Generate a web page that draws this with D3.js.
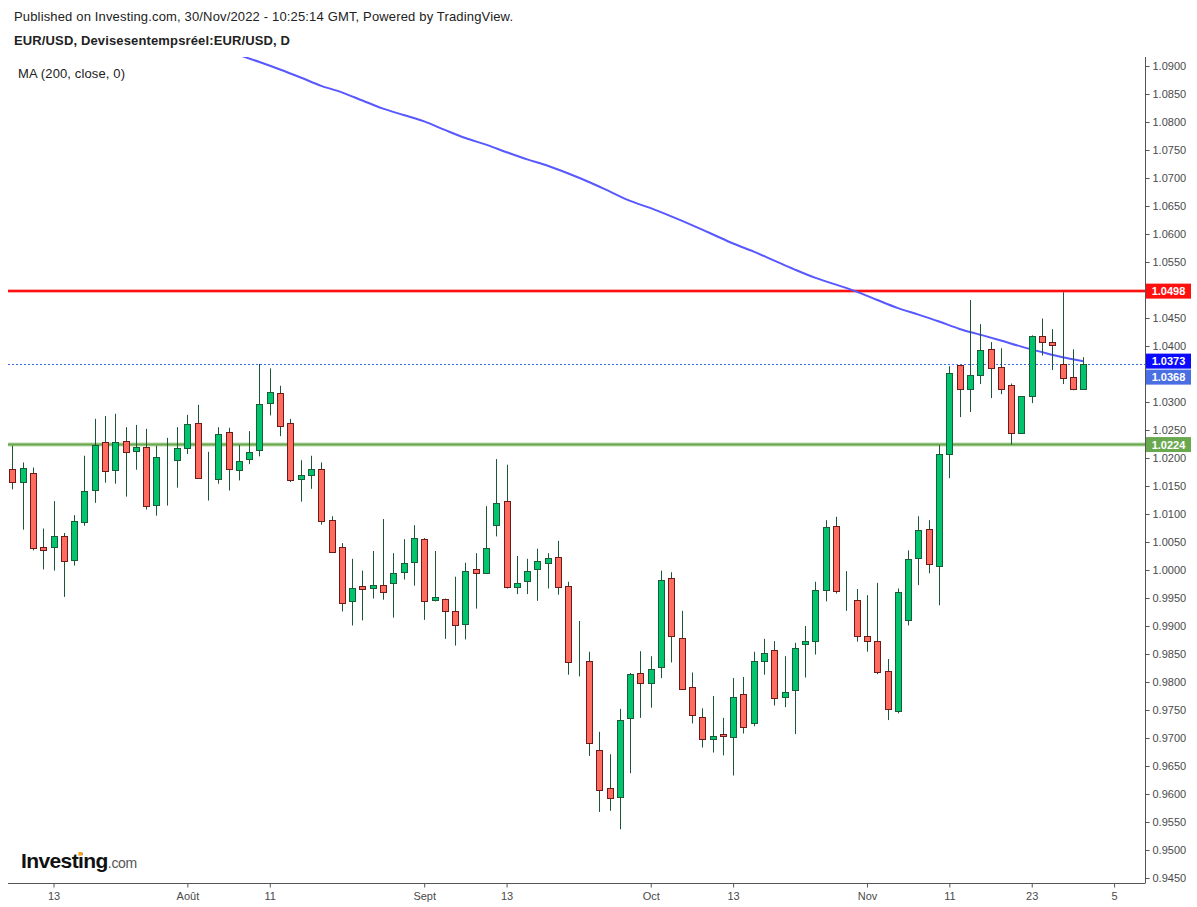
<!DOCTYPE html>
<html>
<head>
<meta charset="utf-8">
<script src="https://cdn.jsdelivr.net/npm/d3@7/dist/d3.min.js"></script>
<style>
  html, body { margin: 0; padding: 0; background: #ffffff; }
  svg { display: block; font-family: "Liberation Sans", Arial, sans-serif; }
</style>
</head>
<body>
<svg id="chart" width="1197" height="907"></svg>
<script>
// ---------------- DATA ----------------
const dates = [
  "2022-07-07","2022-07-08","2022-07-11","2022-07-12","2022-07-13","2022-07-14","2022-07-15","2022-07-18","2022-07-19","2022-07-20","2022-07-21","2022-07-22","2022-07-25","2022-07-26","2022-07-27","2022-07-28","2022-07-29",
  "2022-08-01","2022-08-02","2022-08-03","2022-08-04","2022-08-05","2022-08-08","2022-08-09","2022-08-10","2022-08-11","2022-08-12","2022-08-15","2022-08-16","2022-08-17","2022-08-18","2022-08-19","2022-08-22","2022-08-23","2022-08-24","2022-08-25","2022-08-26","2022-08-29","2022-08-30","2022-08-31",
  "2022-09-01","2022-09-02","2022-09-05","2022-09-06","2022-09-07","2022-09-08","2022-09-09","2022-09-12","2022-09-13","2022-09-14","2022-09-15","2022-09-16","2022-09-19","2022-09-20","2022-09-21","2022-09-22","2022-09-23","2022-09-26","2022-09-27","2022-09-28","2022-09-29","2022-09-30",
  "2022-10-03","2022-10-04","2022-10-05","2022-10-06","2022-10-07","2022-10-10","2022-10-11","2022-10-12","2022-10-13","2022-10-14","2022-10-17","2022-10-18","2022-10-19","2022-10-20","2022-10-21","2022-10-24","2022-10-25","2022-10-26","2022-10-27","2022-10-28","2022-10-31",
  "2022-11-01","2022-11-02","2022-11-03","2022-11-04","2022-11-07","2022-11-08","2022-11-09","2022-11-10","2022-11-11","2022-11-14","2022-11-15","2022-11-16","2022-11-17","2022-11-18","2022-11-21","2022-11-22","2022-11-23","2022-11-24","2022-11-25","2022-11-28","2022-11-29","2022-11-30"
];
const futureDates = ["2022-12-01","2022-12-02","2022-12-05"];

const open = [
  1.0180,1.0158,1.0173,1.0041,1.0041,1.0060,1.0017,1.0085,1.0142,1.0228,1.0178,1.0230,1.0212,1.0219,1.0116,1.0197,1.0196,
  1.0217,1.0262,1.0165,1.0162,1.0246,1.0178,1.0198,1.0214,1.0298,1.0316,1.0262,1.0162,1.0169,1.0180,1.0089,1.0041,0.9944,0.9971,0.9967,0.9974,0.9976,0.9996,1.0014,
  1.0055,0.9946,0.9949,0.9926,0.9903,1.0001,0.9994,1.0080,1.0123,0.9969,0.9980,1.0001,1.0012,1.0023,0.9971,0.9836,0.9837,0.9678,0.9610,0.9594,0.9735,0.9816,
  0.9799,0.9826,0.9985,0.9878,0.9791,0.9737,0.9699,0.9708,0.9701,0.9778,0.9726,0.9837,0.9858,0.9773,0.9785,0.9867,0.9874,0.9965,1.0078,0.9963,0.9946,
  0.9882,0.9874,0.9819,0.9749,0.9910,1.0021,1.0074,1.0008,1.0208,1.0366,1.0324,1.0349,1.0394,1.0362,1.0330,1.0244,1.0310,1.0417,1.0407,1.0367,1.0344,1.0324
];
const high = [
  1.0222,1.0192,1.0183,1.0074,1.0123,1.0066,1.0098,1.0204,1.0270,1.0275,1.0279,1.0255,1.0259,1.0252,1.0222,1.0236,1.0255,
  1.0277,1.0295,1.0211,1.0255,1.0254,1.0223,1.0248,1.0368,1.0360,1.0329,1.0270,1.0196,1.0204,1.0192,1.0096,1.0048,1.0020,0.9999,1.0034,1.0091,1.0030,1.0055,1.0080,
  1.0057,1.0034,0.9949,0.9988,1.0013,1.0030,1.0114,1.0198,1.0188,1.0025,1.0020,1.0038,1.0030,1.0052,0.9979,0.9909,0.9854,0.9711,0.9671,0.9752,0.9816,0.9855,
  0.9846,0.9999,0.9996,0.9927,0.9817,0.9753,0.9775,0.9736,0.9807,0.9809,0.9854,0.9877,0.9873,0.9846,0.9870,0.9900,0.9979,1.0089,1.0095,0.9998,0.9966,
  0.9955,0.9977,0.9841,0.9967,1.0035,1.0096,1.0089,1.0223,1.0364,1.0366,1.0482,1.0439,1.0407,1.0396,1.0333,1.0310,1.0419,1.0449,1.0430,1.0496,1.0394,1.0380
];
const low = [
  1.0144,1.0072,1.0035,1.0001,0.9999,0.9952,1.0008,1.0079,1.0120,1.0156,1.0154,1.0131,1.0179,1.0108,1.0097,1.0115,1.0147,
  1.0207,1.0164,1.0124,1.0154,1.0142,1.0160,1.0189,1.0203,1.0276,1.0239,1.0157,1.0122,1.0145,1.0081,1.0033,0.9926,0.9901,0.9910,0.9949,0.9947,0.9915,0.9983,0.9972,
  0.9911,0.9944,0.9877,0.9865,0.9876,0.9931,0.9994,1.0060,0.9967,0.9957,0.9957,0.9945,0.9967,0.9956,0.9813,0.9810,0.9668,0.9568,0.9570,0.9537,0.9637,0.9736,
  0.9754,0.9807,0.9835,0.9787,0.9726,0.9683,0.9674,0.9669,0.9633,0.9708,0.9721,0.9813,0.9758,0.9755,0.9707,0.9808,0.9849,0.9944,0.9958,0.9927,0.9872,
  0.9854,0.9814,0.9732,0.9744,0.9901,0.9973,0.9994,0.9937,1.0164,1.0273,1.0282,1.0332,1.0307,1.0314,1.0224,1.0244,1.0298,1.0383,1.0357,1.0332,1.0321,1.0323
];
const close = [
  1.0158,1.0183,1.0039,1.0035,1.0060,1.0016,1.0087,1.0141,1.0224,1.0176,1.0228,1.0210,1.0219,1.0114,1.0201,1.0197,1.0217,
  1.0260,1.0164,1.0165,1.0242,1.0180,1.0194,1.0210,1.0296,1.0317,1.0258,1.0160,1.0169,1.0180,1.0087,1.0033,0.9941,0.9967,0.9966,0.9974,0.9960,0.9994,1.0012,1.0057,
  0.9944,0.9951,0.9926,0.9901,0.9999,0.9994,1.0039,1.0119,0.9969,0.9976,0.9999,1.0016,1.0021,0.9969,0.9836,0.9836,0.9691,0.9607,0.9592,0.9733,0.9814,0.9799,
  0.9824,0.9983,0.9882,0.9787,0.9741,0.9699,0.9703,0.9703,0.9773,0.9719,0.9837,0.9851,0.9771,0.9783,0.9860,0.9874,0.9964,1.0076,0.9962,0.9963,0.9883,
  0.9874,0.9817,0.9751,0.9960,1.0019,1.0071,1.0010,1.0208,1.0351,1.0324,1.0348,1.0392,1.0360,1.0324,1.0244,1.0310,1.0417,1.0407,1.0401,1.0342,1.0324,1.0368
];

// MA (200, close, 0)
const maDates = ["2022-08-04","2022-08-08","2022-08-10","2022-08-12","2022-08-16","2022-08-18","2022-08-22","2022-08-24","2022-08-26","2022-08-30",
  "2022-09-01","2022-09-05","2022-09-07","2022-09-09","2022-09-13","2022-09-15","2022-09-19","2022-09-21","2022-09-23","2022-09-27","2022-09-29",
  "2022-10-03","2022-10-05","2022-10-07","2022-10-11","2022-10-13","2022-10-17","2022-10-19","2022-10-21","2022-10-25","2022-10-27","2022-10-31",
  "2022-11-02","2022-11-04","2022-11-08","2022-11-10","2022-11-14","2022-11-16","2022-11-18","2022-11-22","2022-11-24","2022-11-28","2022-11-30"];
const maValues = [1.09323,1.09196,1.09071,1.08938,1.08795,1.08646,1.08530,1.08384,1.08238,1.08125,
  1.08011,1.07859,1.07714,1.07596,1.07461,1.07332,1.07218,1.07080,1.06929,1.06761,1.06591,
  1.06461,1.06314,1.06159,1.05996,1.05830,1.05686,1.05525,1.05364,1.05216,1.05096,1.04971,
  1.04821,1.04677,1.04561,1.04438,1.04304,1.04202,1.04098,1.03989,1.03891,1.03800,1.03729];

const resistance = 1.0498;
const support = 1.0224;
const lastPrice = 1.0368;
const maLast = 1.0373;

const xTickDates = ["2022-07-13","2022-08-01","2022-08-11","2022-09-01","2022-09-13","2022-10-03","2022-10-13","2022-11-01","2022-11-11","2022-11-23","2022-12-05"];
const xTickLabels = ["13","Août","11","Sept","13","Oct","13","Nov","11","23","5"];
const yTicks = [1.0900,1.0850,1.0800,1.0750,1.0700,1.0650,1.0600,1.0550,1.0500,1.0450,1.0400,1.0350,1.0300,1.0250,1.0200,1.0150,1.0100,1.0050,1.0000,0.9950,0.9900,0.9850,0.9800,0.9750,0.9700,0.9650,0.9600,0.9550,0.9500,0.9450];

const titleLine1 = "Published on Investing.com, 30/Nov/2022 - 10:25:14 GMT, Powered by TradingView.";
const titleLine2 = "EUR/USD, Devisesentempsréel:EUR/USD, D";
const maLegend = "MA (200, close, 0)";

// ---------------- LAYOUT ----------------
const plot = { left: 8, right: 1145, top: 57, bottom: 883 };
const allDates = dates.concat(futureDates);
const idxOf = d => allDates.indexOf(d);

const x = d3.scaleLinear().domain([-0.42, 110]).range([plot.left, plot.right]);
const y = d3.scaleLinear().domain([0.945, 1.09]).range([878, 66]);

const svg = d3.select("#chart");

const colors = {
  upFill: "#00c46e", upStroke: "#1a5c38",
  downFill: "#ff6b5f", downStroke: "#6b1c18",
  wick: "#1b5636",
  ma: "#5858ff",
  red: "#ff1010", green: "#6aa84f",
  price: "#3b6ee6", maBox: "#0a0aff", priceBox: "#4a6fe3",
  axis: "#555555", text: "#4a4a4a"
};

svg.append("defs").append("clipPath").attr("id", "clip")
  .append("rect").attr("x", plot.left).attr("y", plot.top)
  .attr("width", plot.right - plot.left).attr("height", plot.bottom - plot.top);

const g = svg.append("g").attr("clip-path", "url(#clip)");

// horizontal levels
function level(v, halo, core) {
  g.append("line").attr("x1", plot.left).attr("x2", plot.right)
    .attr("y1", y(v)).attr("y2", y(v)).attr("stroke", halo).attr("stroke-width", 4);
  g.append("line").attr("x1", plot.left).attr("x2", plot.right)
    .attr("y1", y(v)).attr("y2", y(v)).attr("stroke", core).attr("stroke-width", 2);
}
level(resistance, "#ffb0b0", colors.red);
level(support, "#b9d8aa", colors.green);

// last price dotted line
g.append("line").attr("x1", plot.left).attr("x2", plot.right)
  .attr("y1", Math.round(y(lastPrice)) + 0.5).attr("y2", Math.round(y(lastPrice)) + 0.5)
  .attr("stroke", colors.price).attr("stroke-width", 1).attr("stroke-dasharray", "2,2");

// MA line
const maData = maDates.map((d, i) => ({ i: idxOf(d), v: maValues[i] }));
g.append("path").datum(maData)
  .attr("fill", "none").attr("stroke", colors.ma).attr("stroke-width", 2)
  .attr("stroke-linejoin", "round")
  .attr("d", d3.line().x(d => x(d.i)).y(d => y(d.v)).curve(d3.curveMonotoneX));

// candles
const candles = dates.map((d, i) => ({ i, o: open[i], h: high[i], l: low[i], c: close[i] }));
const cg = g.append("g");
candles.forEach(k => {
  const cx = Math.round(x(k.i));
  const up = k.c > k.o;
  cg.append("line").attr("x1", cx + 0.5).attr("x2", cx + 0.5)
    .attr("y1", y(k.h)).attr("y2", y(k.l))
    .attr("stroke", colors.wick).attr("stroke-width", 1);
  const yt = Math.round(y(Math.max(k.o, k.c)));
  const yb = Math.round(y(Math.min(k.o, k.c)));
  cg.append("rect")
    .attr("x", cx - 2.5).attr("width", 6)
    .attr("y", yt + 0.5).attr("height", Math.max(0, yb - yt))
    .attr("fill", up ? colors.upFill : colors.downFill)
    .attr("stroke", up ? colors.upStroke : colors.downStroke)
    .attr("stroke-width", 1);
});

// ---------------- AXES ----------------
const boxes = [
  { v: resistance, y: y(resistance), fill: colors.red },
  { v: maLast, y: y(maLast), fill: colors.maBox },
  { v: lastPrice, y: Math.max(y(lastPrice), y(maLast) + 16), fill: colors.priceBox },
  { v: support, y: y(support), fill: colors.green }
];

const yAxis = d3.axisRight(y).tickValues(yTicks).tickFormat(d3.format(".4f"))
  .tickSize(4).tickSizeOuter(0).tickPadding(3);
const ya = svg.append("g").attr("transform", `translate(${plot.right + 0.5},0)`).call(yAxis);
ya.select(".domain").attr("d", `M0,${plot.top}V${plot.bottom}`).attr("stroke", colors.axis);
ya.selectAll(".tick line").attr("stroke", colors.axis);
ya.selectAll(".tick text").attr("fill", colors.text).style("font-size", "11px")
  .style("font-family", "'Liberation Sans', Arial, sans-serif");
ya.selectAll(".tick").filter(d => boxes.some(b => Math.abs(b.y - y(d)) < 11)).remove();

const xAxis = d3.axisBottom(x).tickValues(xTickDates.map(idxOf))
  .tickFormat((d, i) => xTickLabels[i]).tickSize(4).tickSizeOuter(0).tickPadding(5);
const xa = svg.append("g").attr("transform", `translate(0,${plot.bottom + 0.5})`).call(xAxis);
xa.select(".domain").attr("d", `M${plot.left},0H${plot.right + 0.5}`).attr("stroke", colors.axis);
xa.selectAll(".tick line").attr("stroke", colors.axis);
xa.selectAll(".tick text").attr("fill", colors.text).style("font-size", "11px")
  .style("font-family", "'Liberation Sans', Arial, sans-serif");

// price boxes
boxes.forEach(b => {
  svg.append("rect").attr("x", plot.right + 1).attr("y", b.y - 7.5)
    .attr("width", 45).attr("height", 15).attr("fill", b.fill);
  svg.append("text").attr("x", plot.right + 23.5).attr("y", b.y + 4)
    .attr("text-anchor", "middle").attr("fill", "#ffffff")
    .style("font-size", "11px").style("font-weight", "bold")
    .text(d3.format(".4f")(b.v));
});

// ---------------- TEXTS ----------------
svg.append("text").attr("x", 14).attr("y", 21).attr("fill", "#222")
  .style("font-size", "13px").attr("textLength", 499).attr("lengthAdjust", "spacing")
  .text(titleLine1);
svg.append("text").attr("x", 14).attr("y", 45).attr("fill", "#222")
  .style("font-size", "13px").style("font-weight", "bold")
  .attr("textLength", 276).attr("lengthAdjust", "spacing")
  .text(titleLine2);
svg.append("text").attr("x", 18).attr("y", 78).attr("fill", "#222")
  .style("font-size", "13px").attr("textLength", 107).attr("lengthAdjust", "spacing")
  .text(maLegend);

// logo
const logo = svg.append("text").attr("x", 21).attr("y", 868);
logo.append("tspan").text("Investing").style("font-size", "21px").style("font-weight", "bold")
  .style("letter-spacing", "-0.6px").attr("fill", "#111");
logo.append("tspan").text(".com").style("font-size", "14px").attr("fill", "#555")
  .style("letter-spacing", "-0.3px");
// orange dot on the second "i"
try {
  const node = logo.node();
  const p = node.getStartPositionOfChar(6);
  const e = node.getEndPositionOfChar(6);
  svg.append("rect").attr("x", p.x + 0.3).attr("y", 852)
    .attr("width", Math.max(3, e.x - p.x - 1.2)).attr("height", 3.6).attr("fill", "#f7a21b");
} catch (err) {}
</script>
</body>
</html>
